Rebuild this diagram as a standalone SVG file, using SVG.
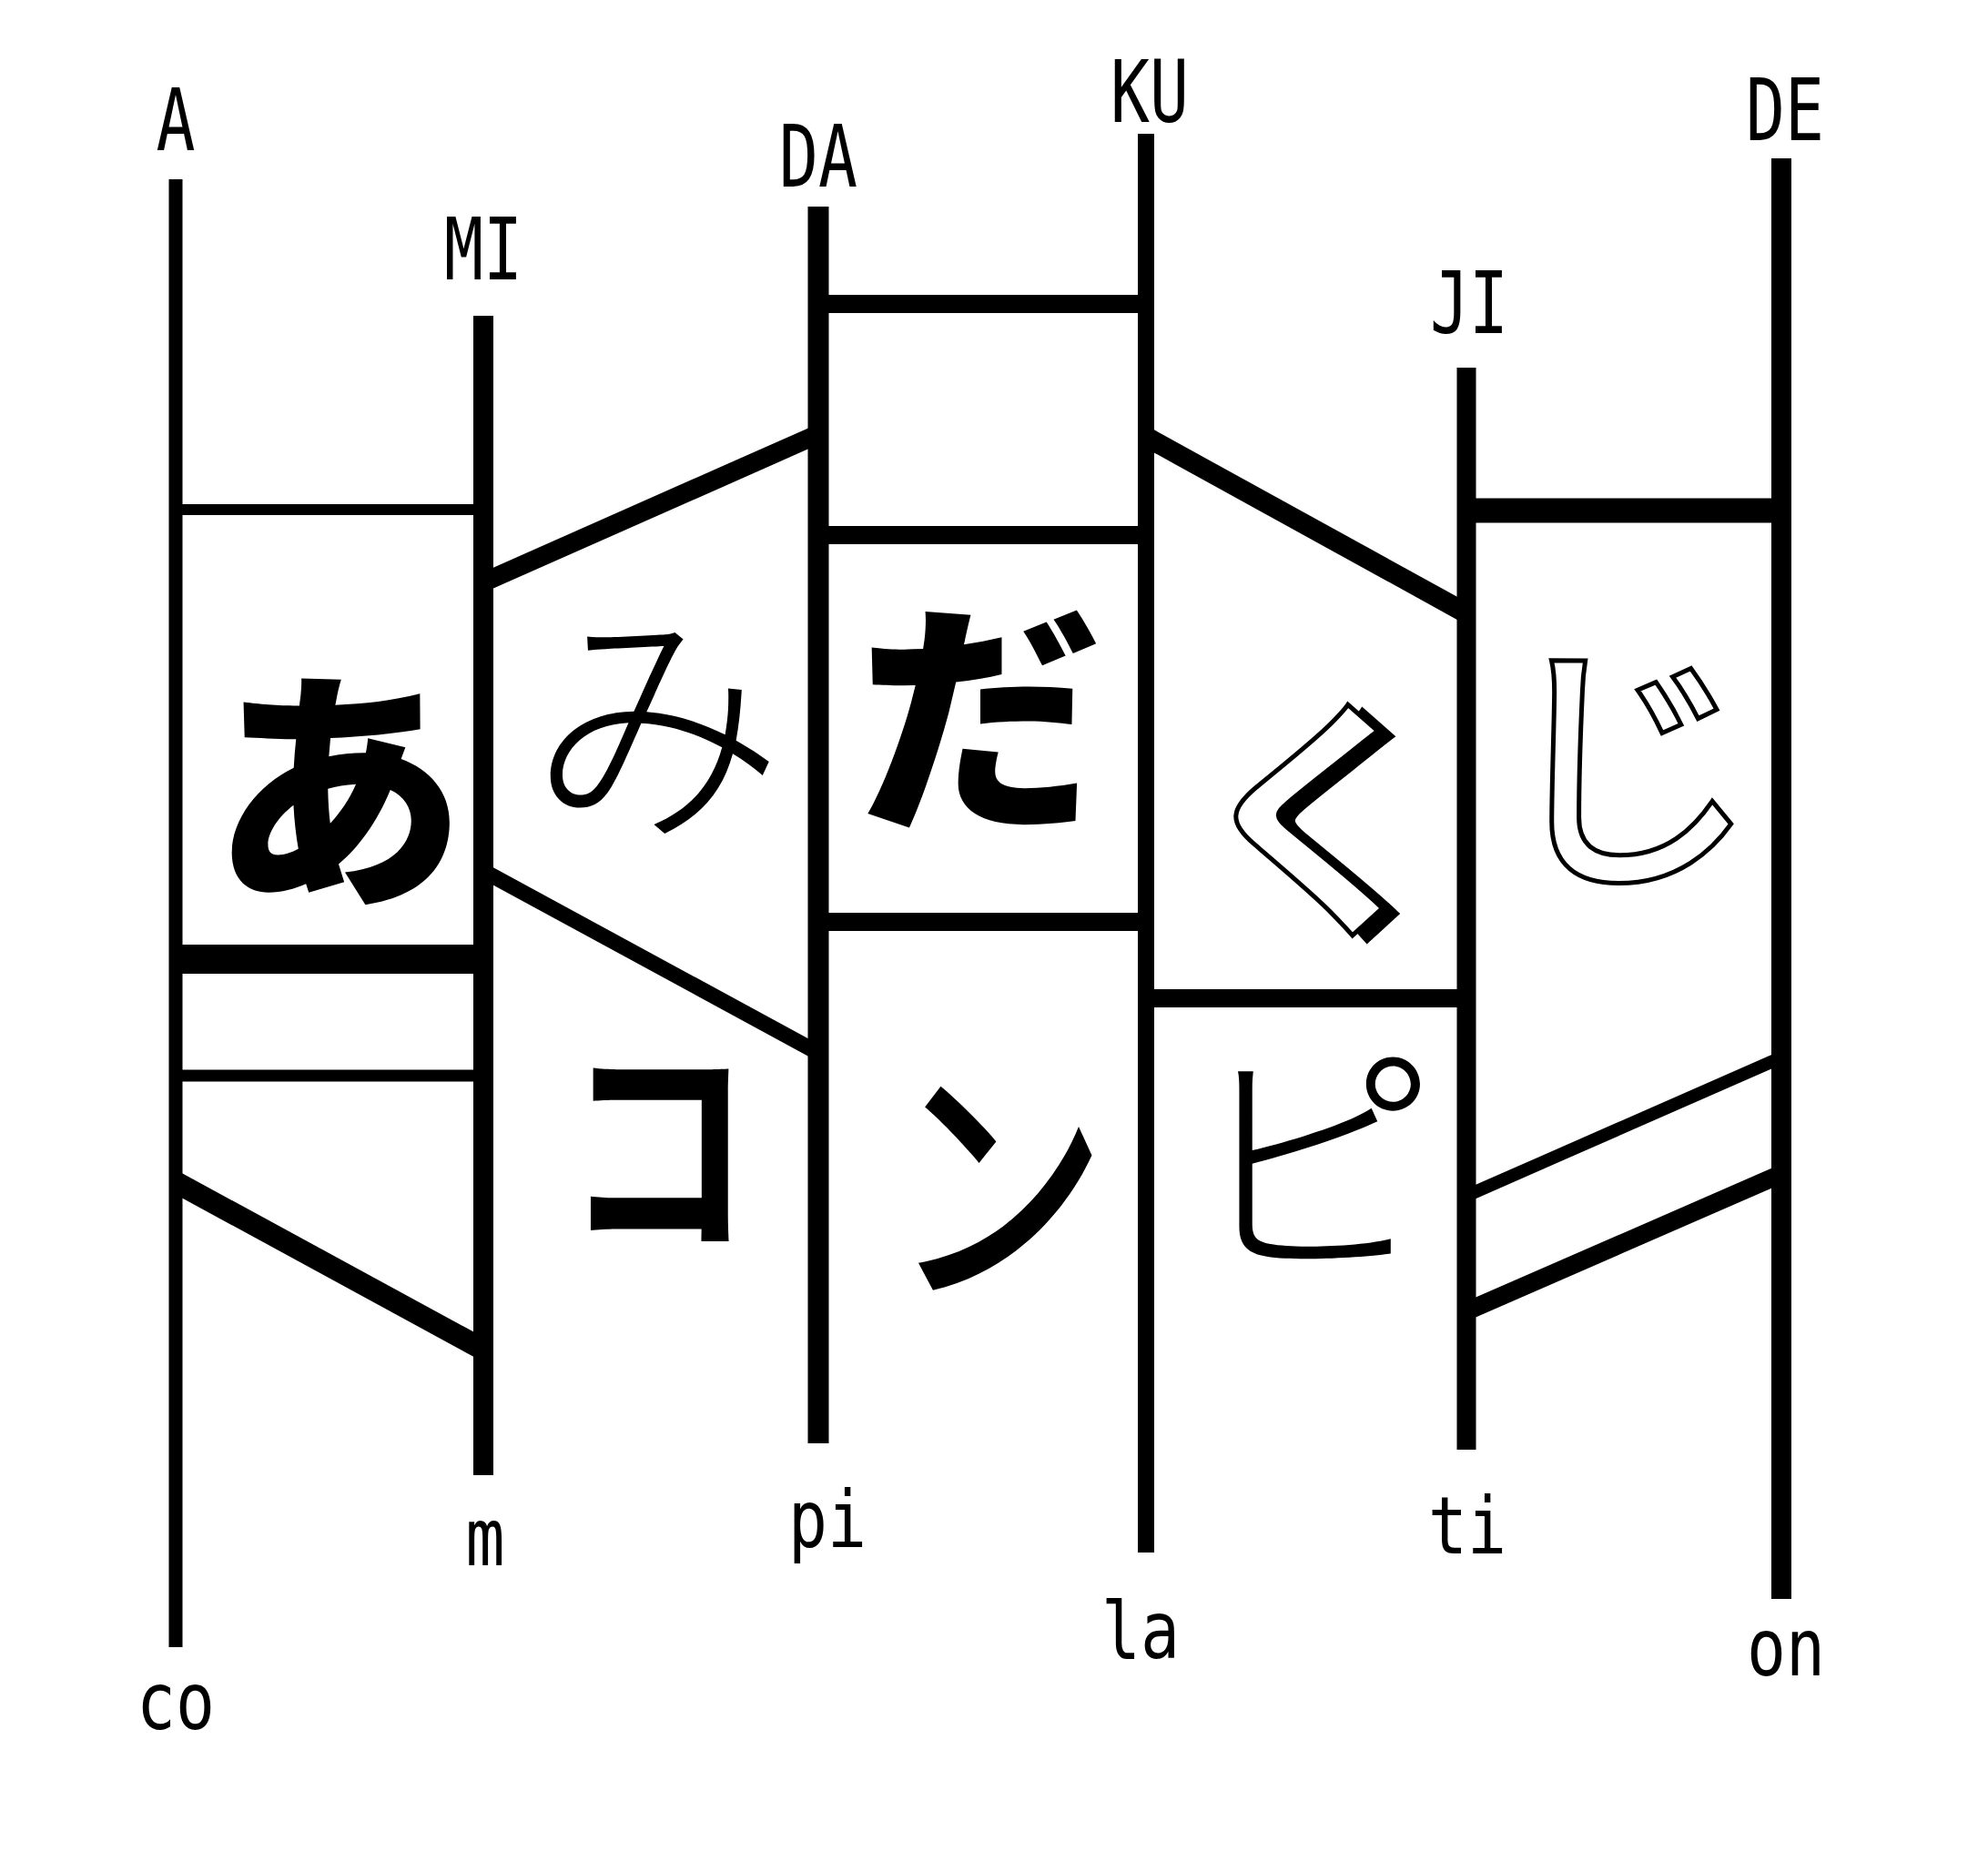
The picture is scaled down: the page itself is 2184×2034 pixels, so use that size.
<svg xmlns="http://www.w3.org/2000/svg" width="2184" height="2034" viewBox="0 0 2184 2034">
<style>
.post{stroke:#000;stroke-linecap:butt;fill:none}
.rung{stroke:#000;stroke-linecap:butt;fill:none}
.lbl{font-family:"DejaVu Sans Mono","Liberation Mono",monospace;fill:#000;text-anchor:middle}
.cap{font-size:94px}
.low{font-size:88px}
.big{font-family:"Noto Sans CJK JP","Noto Sans CJK SC",sans-serif;text-anchor:middle;dominant-baseline:central}
</style>
<defs>
<filter id="shadow" x="-20%" y="-20%" width="140%" height="140%">
<feOffset in="SourceAlpha" dx="16" dy="6" result="off"/>
<feMerge><feMergeNode in="off"/><feMergeNode in="SourceGraphic"/></feMerge>
</filter>
</defs>
<rect x="0" y="0" width="2184" height="2034" fill="#fff"/>

<g id="post-A">
<line class="post" x1="193" y1="197" x2="193" y2="1810" stroke-width="15"/>
<text class="lbl cap" x="193" y="165" textLength="43" lengthAdjust="spacingAndGlyphs">A</text>
<text class="lbl low" x="193" y="1900" textLength="86" lengthAdjust="spacingAndGlyphs">co</text>
</g>
<g id="post-MI">
<line class="post" x1="531" y1="347" x2="531" y2="1621" stroke-width="22"/>
<text class="lbl cap" x="531" y="307" textLength="86" lengthAdjust="spacingAndGlyphs">MI</text>
<text class="lbl low" x="533" y="1720" textLength="43" lengthAdjust="spacingAndGlyphs">m</text>
</g>
<g id="post-DA">
<line class="post" x1="899" y1="227" x2="899" y2="1586" stroke-width="23"/>
<text class="lbl cap" x="899" y="205" textLength="86" lengthAdjust="spacingAndGlyphs">DA</text>
<text class="lbl low" x="909" y="1700" textLength="86" lengthAdjust="spacingAndGlyphs">pi</text>
</g>
<g id="post-KU">
<line class="post" x1="1259" y1="147" x2="1259" y2="1706" stroke-width="18"/>
<text class="lbl cap" x="1263" y="134" textLength="86" lengthAdjust="spacingAndGlyphs">KU</text>
<text class="lbl low" x="1253" y="1822" textLength="86" lengthAdjust="spacingAndGlyphs">la</text>
</g>
<g id="post-JI">
<line class="post" x1="1611" y1="404" x2="1611" y2="1593" stroke-width="21"/>
<text class="lbl cap" x="1614" y="366" textLength="86" lengthAdjust="spacingAndGlyphs">JI</text>
<text class="lbl low" x="1612" y="1707" textLength="86" lengthAdjust="spacingAndGlyphs">ti</text>
</g>
<g id="post-DE">
<line class="post" x1="1957" y1="174" x2="1957" y2="1757" stroke-width="22"/>
<text class="lbl cap" x="1961" y="154" textLength="86" lengthAdjust="spacingAndGlyphs">DE</text>
<text class="lbl low" x="1962" y="1841" textLength="86" lengthAdjust="spacingAndGlyphs">on</text>
</g>

<g id="connectors">
<line class="rung" x1="193" y1="560" x2="531" y2="560" stroke-width="12"/>
<line class="rung" x1="193" y1="1054" x2="531" y2="1054" stroke-width="32"/>
<line class="rung" x1="193" y1="1182" x2="531" y2="1182" stroke-width="13"/>
<line class="rung" x1="193" y1="1299" x2="531" y2="1483" stroke-width="24"/>
<line class="rung" x1="531" y1="640" x2="899" y2="477" stroke-width="21"/>
<line class="rung" x1="531" y1="957" x2="899" y2="1157" stroke-width="17"/>
<line class="rung" x1="899" y1="334" x2="1259" y2="334" stroke-width="20"/>
<line class="rung" x1="899" y1="588" x2="1259" y2="588" stroke-width="20"/>
<line class="rung" x1="899" y1="1013" x2="1259" y2="1013" stroke-width="20"/>
<line class="rung" x1="1259" y1="480" x2="1611" y2="674" stroke-width="22"/>
<line class="rung" x1="1259" y1="1097" x2="1611" y2="1097" stroke-width="20"/>
<line class="rung" x1="1611" y1="561" x2="1957" y2="561" stroke-width="27"/>
<line class="rung" x1="1611" y1="1314" x2="1957" y2="1162" stroke-width="14"/>
<line class="rung" x1="1611" y1="1441" x2="1957" y2="1290" stroke-width="20"/>
</g>

<g id="char-a"><text class="big" x="372" y="852" font-size="280" font-weight="900">あ</text></g>
<g id="char-mi"><text class="big" x="721" y="779" font-size="280" font-weight="300">み</text></g>
<g id="char-da"><text class="big" x="1077" y="773" font-size="270" font-weight="900">だ</text></g>
<g id="char-ku"><text class="big" x="1448" y="883" font-size="280" font-weight="700" fill="#fff" stroke="#000" stroke-width="5" filter="url(#shadow)">く</text></g>
<g id="char-ji"><text class="big" x="1788" y="826" font-size="290" font-weight="500" fill="#fff" stroke="#000" stroke-width="5">じ</text></g>
<g id="char-ko"><text class="big" transform="translate(723 1245) scale(0.8 1)" x="0" y="0" font-size="260" font-weight="600">コ</text></g>
<g id="char-n"><text class="big" transform="translate(1097 1283) scale(0.82 1)" x="0" y="0" font-size="290" font-weight="500">ン</text></g>
<g id="char-pi"><text class="big" x="1442" y="1261" font-size="275" font-weight="300">ピ</text></g>
</svg>
